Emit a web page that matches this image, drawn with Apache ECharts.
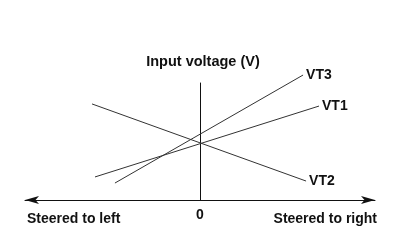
<!DOCTYPE html>
<html>
<head>
<meta charset="utf-8">
<script src="https://cdn.jsdelivr.net/npm/echarts@6/dist/echarts.min.js"></script>
<style>html,body{margin:0;padding:0;background:#fff;}#c{width:400px;height:240px;}</style>
</head>
<body>
<div id="c"></div>
<script>
// Data (steering position vs input voltage, arbitrary units)
const seriesNames = ['VT3', 'VT1', 'VT2'];
const vt3 = [[-4.86, 1.45], [5.89, 10.68]];
const vt1 = [[-6.0, 1.97], [6.8, 8.03]];
const vt2 = [[-6.17, 8.21], [6.06, 1.62]];
const xTickLabels = {0: '0'};
const yAxisTitle = 'Input voltage (V)';
const leftText = 'Steered to left';
const rightText = 'Steered to right';

const FONT = 'Liberation Sans';
const txt = {fontFamily: FONT, fontWeight: 'bold', fontSize: 14, color: '#111'};

function mkSeries(name, data) {
  return {
    name: name, type: 'line', data: data, symbol: 'none', clip: false,
    lineStyle: {color: '#333', width: 1},
    endLabel: {
      show: true, distance: 3,
      formatter: () => name,
      fontFamily: FONT, fontWeight: 'bold', fontSize: 14, color: '#111'
    },
    animation: false
  };
}

const chart = echarts.init(document.getElementById('c'), null, {renderer: 'canvas'});
chart.setOption({
  backgroundColor: '#fff',
  animation: false,
  grid: {left: 25, right: 25, top: 83, bottom: 40, containLabel: false},
  xAxis: {
    type: 'value', min: -10, max: 10, interval: 10,
    axisLine: {show: true, onZero: false, symbol: ['arrow', 'arrow'], symbolSize: [6, 14],
      lineStyle: {color: '#111', width: 1}},
    axisTick: {show: false},
    splitLine: {show: false},
    axisLabel: Object.assign({margin: 8, formatter: v => xTickLabels[v] !== undefined ? xTickLabels[v] : ''}, txt)
  },
  yAxis: {
    type: 'value', min: 0, max: 10,
    name: yAxisTitle, nameLocation: 'end', nameGap: 14,
    nameTextStyle: Object.assign({padding: [0, 0, 0, 6]}, txt, {fontSize: 14.5}),
    axisLine: {show: true, onZero: true, lineStyle: {color: '#111', width: 1}},
    axisTick: {show: false},
    axisLabel: {show: false},
    splitLine: {show: false}
  },
  graphic: [
    {type: 'text', left: 27, top: 212, style: {text: leftText, font: 'bold 14px "' + FONT + '"', fill: '#111'}},
    {type: 'text', right: 23, top: 212, style: {text: rightText, font: 'bold 14px "' + FONT + '"', fill: '#111'}}
  ],
  series: [mkSeries(seriesNames[0], vt3), mkSeries(seriesNames[1], vt1), mkSeries(seriesNames[2], vt2)]
});
</script>
</body>
</html>
